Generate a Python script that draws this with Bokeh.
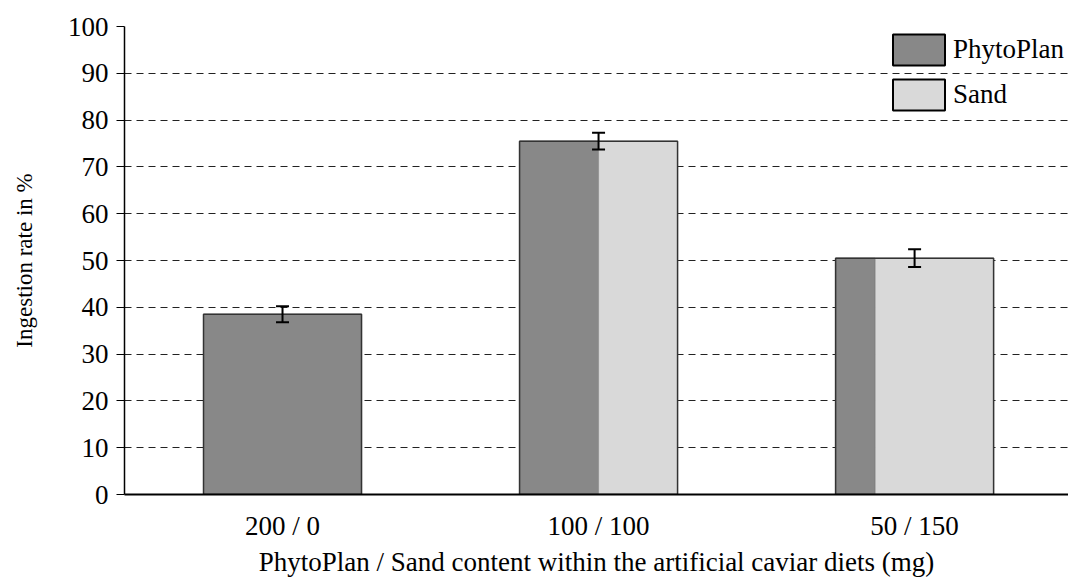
from bokeh.plotting import figure
from bokeh.models import Range1d, FixedTicker, Legend, LegendItem, Whisker, ColumnDataSource
from bokeh.embed import file_html
from bokeh.resources import INLINE

categories = ["200 / 0", "100 / 100", "50 / 150"]
phyto_mg = [200, 100, 50]
sand_mg = [0, 100, 150]
ingestion = [38.5, 75.5, 50.5]
error = [1.7, 1.8, 1.9]
y_ticks = [0, 10, 20, 30, 40, 50, 60, 70, 80, 90, 100]

centers = [i + 0.5 for i in range(len(categories))]
bar_w = 0.5
lefts = [c - bar_w / 2 for c in centers]
rights = [c + bar_w / 2 for c in centers]
splits = [l + bar_w * p / (p + s) for l, p, s in zip(lefts, phyto_mg, sand_mg)]

FONT = "Liberation Serif"
DARK = "#888888"
LIGHT = "#d9d9d9"

p = figure(width=1068, height=579, output_backend="svg", toolbar_location=None,
           x_range=Range1d(0, 2.987), y_range=Range1d(0, 100),
           min_border_left=124, min_border_right=0, min_border_top=26, min_border_bottom=85)
p.outline_line_color = None
p.background_fill_color = "white"

phyto_src = ColumnDataSource(dict(left=lefts, right=splits, top=ingestion, bottom=[0] * 3))
sand_src = ColumnDataSource(dict(left=splits, right=rights, top=ingestion, bottom=[0] * 3))
p.quad(left="left", right="right", top="top", bottom="bottom", source=phyto_src,
       fill_color=DARK, line_color="#555555", line_width=1)
p.quad(left="left", right="right", top="top", bottom="bottom", source=sand_src,
       fill_color=LIGHT, line_color="#999999", line_width=1)

# outline around whole bar
p.quad(left=lefts, right=rights, top=ingestion, bottom=[0] * 3,
       fill_color=None, line_color="#333333", line_width=1.5)

# legend-only renderers (NaN data, nothing drawn in the plot area)
nan = float("nan")
leg_data = dict(left=[nan], right=[nan], top=[nan], bottom=[nan])
leg_phyto = p.quad(left="left", right="right", top="top", bottom="bottom",
                   source=ColumnDataSource(leg_data), fill_color=DARK,
                   line_color="black", line_width=2)
leg_sand = p.quad(left="left", right="right", top="top", bottom="bottom",
                  source=ColumnDataSource(dict(leg_data)), fill_color=LIGHT,
                  line_color="black", line_width=2)

err_src = ColumnDataSource(dict(x=centers,
                                upper=[v + e for v, e in zip(ingestion, error)],
                                lower=[v - e for v, e in zip(ingestion, error)]))
w = Whisker(base="x", upper="upper", lower="lower", source=err_src,
            line_color="black", line_width=2, level="overlay")
for head in (w.upper_head, w.lower_head):
    head.size = 13
    head.line_width = 2
    head.line_color = "black"
p.add_layout(w)

# grid
p.xgrid.visible = False
p.ygrid.ticker = FixedTicker(ticks=y_ticks)
p.ygrid.grid_line_color = "#222222"
p.ygrid.grid_line_dash = "7 5"
p.ygrid.grid_line_width = 1.2
p.ygrid.level = "underlay"

# axes
p.yaxis.ticker = FixedTicker(ticks=y_ticks)
p.yaxis.major_tick_out = 8
p.yaxis.major_tick_in = 0
p.yaxis.minor_tick_line_color = None
p.yaxis.major_tick_line_color = "black"
p.yaxis.axis_line_color = "black"
p.yaxis.axis_line_width = 1.5
p.yaxis.major_label_text_font = FONT
p.yaxis.major_label_text_font_size = "27px"
p.yaxis.major_label_text_color = "black"
p.yaxis.major_label_standoff = 8
p.yaxis.axis_label = "Ingestion rate in %"
p.yaxis.axis_label_text_font = FONT
p.yaxis.axis_label_text_font_size = "23px"
p.yaxis.axis_label_text_font_style = "normal"
p.yaxis.axis_label_text_color = "black"
p.yaxis.axis_label_standoff = 28

p.xaxis.ticker = FixedTicker(ticks=centers)
p.xaxis.major_label_overrides = {c: lab for c, lab in zip(centers, categories)}
p.xaxis.major_tick_line_color = None
p.xaxis.minor_tick_line_color = None
p.xaxis.axis_line_color = "black"
p.xaxis.axis_line_width = 2
p.xaxis.major_label_text_font = FONT
p.xaxis.major_label_text_font_size = "27px"
p.xaxis.major_label_text_color = "black"
p.xaxis.major_label_standoff = 10
p.xaxis.axis_label = "PhytoPlan / Sand content within the artificial caviar diets (mg)"
p.xaxis.axis_label_text_font = FONT
p.xaxis.axis_label_text_font_size = "27px"
p.xaxis.axis_label_text_font_style = "normal"
p.xaxis.axis_label_text_color = "black"
p.xaxis.axis_label_standoff = 3

legend = Legend(items=[LegendItem(label="PhytoPlan", renderers=[leg_phyto]),
                       LegendItem(label="Sand", renderers=[leg_sand])],
                location=(762, 380), orientation="vertical")
legend.glyph_width = 65
legend.glyph_height = 39
legend.spacing = 6
legend.padding = 0
legend.margin = 0
legend.label_standoff = 2
legend.label_text_font = FONT
legend.label_text_font_size = "27px"
legend.label_text_color = "black"
legend.label_height = 39
legend.border_line_color = None
legend.background_fill_alpha = 0
p.add_layout(legend)

open("out.html", "w").write(file_html(p, INLINE))
